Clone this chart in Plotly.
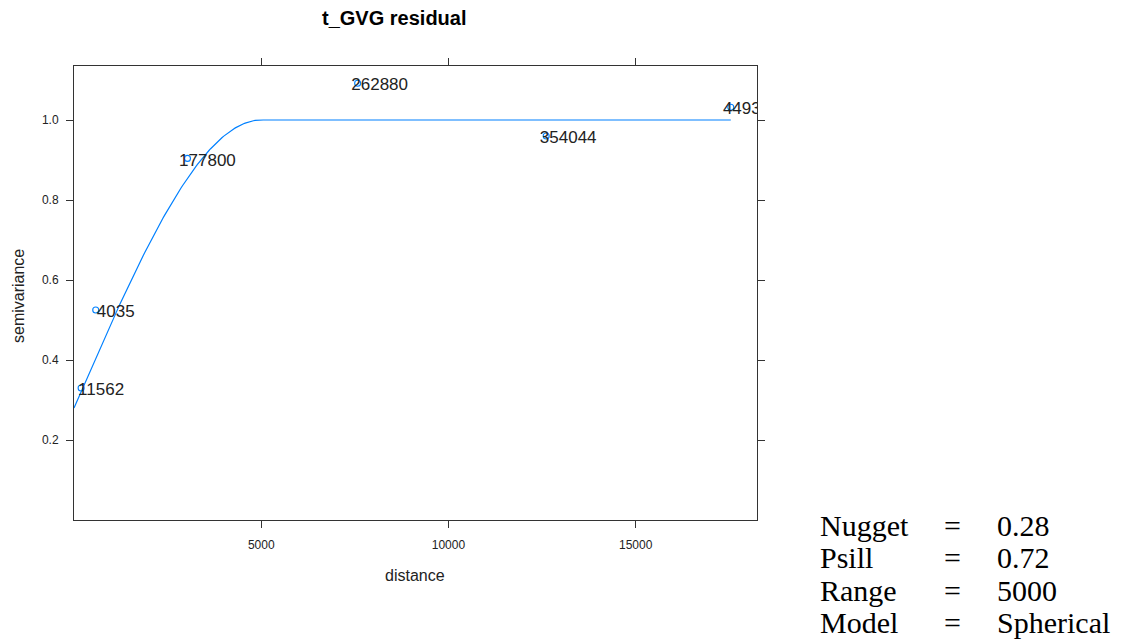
import numpy as np
import plotly.graph_objects as go

# Sample variogram: lag distance, semivariance, number of point pairs
distance = [190, 580, 3030, 7575, 12610, 17540]
gamma = [0.33, 0.525, 0.904, 1.092, 0.960, 1.032]
np_pairs = ["11562", "4035", "177800", "262880", "354044", "4493"]

# Fitted spherical model
nugget = 0.28
psill = 0.72
vrange = 5000
model_name = "Spherical"

x_ticks = [5000, 10000, 15000]
y_ticks = [0.2, 0.4, 0.6, 0.8, 1.0]

# Figure / panel geometry in pixels
W, H = 1123, 643
L, R, T, B = 74, 757, 66, 520
X_RANGE = [0, 18240]
Y_RANGE = [0, 1.135]

# Pixel nudges of the pair-count labels relative to their points
label_dx_px = [20, 20, 20, 22, 22, 11]
label_dy_px = 3

blue = "#0080ff"
ink = "#222222"
frame = "#333333"
sans = "Liberation Sans, Arial, sans-serif"
serif = "Liberation Serif, Times New Roman, serif"


def spherical(h):
    h = np.asarray(h, dtype=float)
    r = np.clip(h / vrange, 0, 1)
    return nugget + psill * (1.5 * r - 0.5 * r ** 3)


def paper_x(px):
    return (px - L) / (R - L)


def paper_y(py):
    return (B - py) / (B - T)


ux = (X_RANGE[1] - X_RANGE[0]) / (R - L)
uy = (Y_RANGE[1] - Y_RANGE[0]) / (B - T)

h_line = np.linspace(0, max(distance), 400)

fig = go.Figure()

fig.add_trace(go.Scatter(
    x=h_line, y=spherical(h_line), mode="lines",
    line=dict(color=blue, width=1.2), hoverinfo="skip", showlegend=False,
))

fig.add_trace(go.Scatter(
    x=distance, y=gamma, mode="markers",
    marker=dict(symbol="circle-open", size=6, color=blue, line=dict(width=1.1, color=blue)),
    showlegend=False,
))

fig.add_trace(go.Scatter(
    x=[d + dx * ux for d, dx in zip(distance, label_dx_px)],
    y=[g - label_dy_px * uy for g in gamma],
    text=np_pairs, mode="text", textposition="middle center",
    textfont=dict(family=sans, size=17, color=ink),
    cliponaxis=True, hoverinfo="skip", showlegend=False,
))

annotations = [
    dict(text="<b>t_GVG residual</b>", x=paper_x(394), y=paper_y(18),
         font=dict(family=sans, size=20, color="#000000")),
    dict(text="distance", x=paper_x(415), y=paper_y(575),
         font=dict(family=sans, size=16, color=ink)),
    dict(text="semivariance", x=paper_x(18), y=paper_y(296), textangle=-90,
         font=dict(family=sans, size=16, color=ink)),
]

rows = [("Nugget", f"{nugget:.2f}"), ("Psill", f"{psill:.2f}"),
        ("Range", f"{vrange}"), ("Model", model_name)]
row_y = [525, 557, 590, 622]
for (name, val), py in zip(rows, row_y):
    annotations.append(dict(text=name, x=paper_x(818), y=paper_y(py), xanchor="left",
                            font=dict(family=serif, size=30, color="#000000")))
    annotations.append(dict(text="=", x=paper_x(953), y=paper_y(py), xanchor="center",
                            font=dict(family=serif, size=30, color="#000000")))
    annotations.append(dict(text=val, x=paper_x(995), y=paper_y(py), xanchor="left",
                            font=dict(family=serif, size=30, color="#000000")))

for a in annotations:
    a.update(xref="paper", yref="paper", showarrow=False)
    a.setdefault("xanchor", "center")
    a.setdefault("yanchor", "middle")

axis_common = dict(
    showline=True, linecolor=frame, linewidth=1, mirror="ticks",
    ticks="outside", ticklen=7, tickcolor=frame, tickwidth=1,
    showgrid=False, zeroline=False,
    tickfont=dict(family=sans, size=12, color=ink),
)

fig.update_layout(
    width=W, height=H,
    margin=dict(l=L, r=W - R, t=T, b=H - B),
    paper_bgcolor="white", plot_bgcolor="white",
    xaxis=dict(range=X_RANGE, tickvals=x_ticks, tickformat="d", ticklabelstandoff=7, **axis_common),
    yaxis=dict(range=Y_RANGE, tickvals=y_ticks, tickformat=".1f", ticklabelstandoff=5, **axis_common),
    annotations=annotations,
    showlegend=False,
)

fig.write_html("out.html")
